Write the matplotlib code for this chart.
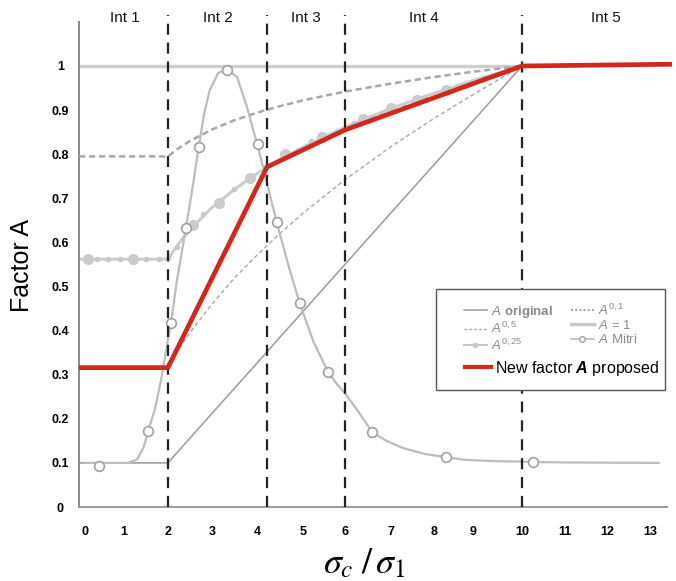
import numpy as np
import matplotlib.pyplot as plt
from matplotlib.lines import Line2D
from matplotlib.patches import Rectangle

plt.rcParams['font.family'] = ['Liberation Sans', 'DejaVu Sans']
plt.rcParams['mathtext.fontset'] = 'custom'
plt.rcParams['mathtext.rm'] = 'Liberation Sans'
plt.rcParams['mathtext.it'] = 'Liberation Sans:italic'
plt.rcParams['mathtext.bf'] = 'Liberation Sans:bold'
plt.rcParams['mathtext.bfit'] = 'Liberation Sans:italic:bold'

# x axis of the original figure is not evenly spaced: tick label -> pixel
tick_vals = np.arange(14)
tick_px = np.array([85, 124, 168, 212, 257, 303, 345, 391, 434, 473, 522, 565, 607, 650], float)


def fwd(x):
    x = np.asarray(x, float)
    y = np.interp(x, tick_vals, tick_px)
    lo = x < tick_vals[0]
    hi = x > tick_vals[-1]
    y = np.where(lo, tick_px[0] + (x - tick_vals[0]) * (tick_px[1] - tick_px[0]), y)
    y = np.where(hi, tick_px[-1] + (x - tick_vals[-1]) * (tick_px[-1] - tick_px[-2]), y)
    return y


def inv(p):
    p = np.asarray(p, float)
    x = np.interp(p, tick_px, tick_vals)
    lo = p < tick_px[0]
    hi = p > tick_px[-1]
    x = np.where(lo, tick_vals[0] + (p - tick_px[0]) / (tick_px[1] - tick_px[0]), x)
    x = np.where(hi, tick_vals[-1] + (p - tick_px[-1]) / (tick_px[-1] - tick_px[-2]), x)
    return x


# ---- data ----
x_curve = [-0.15, 2, 2.25, 2.5, 3, 3.5, 4, 4.5, 5, 6, 7, 8, 9, 10]
a_orig = [0.10, 0.10, 0.128, 0.156, 0.212, 0.269, 0.326, 0.385, 0.443, 0.55, 0.667, 0.776, 0.875, 1.0]
a_01 = [0.795, 0.795, 0.814, 0.830, 0.856, 0.877, 0.894, 0.909, 0.922, 0.942, 0.960, 0.975, 0.987, 1.0]
a_025 = [0.562, 0.562, 0.598, 0.628, 0.679, 0.720, 0.756, 0.788, 0.816, 0.861, 0.904, 0.938, 0.967, 1.0]
a_05 = [0.316, 0.316, 0.358, 0.395, 0.460, 0.519, 0.571, 0.620, 0.666, 0.742, 0.817, 0.881, 0.935, 1.0]

a025_dot_x = [0.3, 0.6, 0.9, 1.5, 1.8, 2.0, 2.2, 2.8, 3.5, 4.2, 4.9, 5.2, 5.8, 6.2, 6.6, 6.8, 7.3, 7.8, 8.6, 9.2]
a025_dot_y = [0.562, 0.562, 0.562, 0.562, 0.562, 0.565, 0.59, 0.665, 0.72, 0.77, 0.81, 0.83, 0.853, 0.87, 0.885, 0.893, 0.91, 0.93, 0.953, 0.972]
a025_big_x = [0.08, 1.2, 2.57, 3.16, 3.84, 4.61, 5.45, 6.4, 7.0, 7.6, 8.3]
a025_big_y = [0.562, 0.562, 0.64, 0.69, 0.745, 0.80, 0.84, 0.88, 0.905, 0.923, 0.945]

mitri_x = [0, 0.6, 1.1, 1.3, 1.45, 1.55, 1.7, 1.85, 1.95, 2.07, 2.2, 2.41, 2.57, 2.7, 2.82, 2.95,
           3.14, 3.33, 3.56, 3.78, 4.0, 4.17, 4.3, 4.43, 4.68, 4.93, 5.25, 5.6, 5.8, 6.0, 6.3,
           6.59, 6.9, 7.3, 7.8, 8.31, 8.8, 9.4, 10.0, 10.26, 11.0, 13.2]
mitri_y = [0.10, 0.10, 0.10, 0.108, 0.135, 0.172, 0.22, 0.29, 0.35, 0.417, 0.51, 0.633, 0.73, 0.816, 0.89, 0.945,
           0.984, 0.993, 0.975, 0.907, 0.825, 0.757, 0.70, 0.646, 0.55, 0.462, 0.375, 0.306, 0.28, 0.258, 0.215,
           0.17, 0.15, 0.133, 0.12, 0.113, 0.107, 0.104, 0.103, 0.102, 0.101, 0.10]
mitri_mark_x = [0.36, 1.55, 2.07, 2.41, 2.7, 3.33, 4.02, 4.43, 4.93, 5.6, 6.59, 8.31, 10.26]
mitri_mark_y = [0.093, 0.172, 0.417, 0.633, 0.817, 0.99, 0.823, 0.646, 0.462, 0.306, 0.17, 0.113, 0.102]

one_x = [-0.15, 10]
one_y = [1.0, 1.0]

new_x = [-0.15, 2, 4.22, 6, 10, 13.5]
new_y = [0.316, 0.316, 0.771, 0.855, 1.0, 1.004]

bounds = [2, 4.22, 6, 10]
int_names = ['Int 1', 'Int 2', 'Int 3', 'Int 4', 'Int 5']
int_x = [1.03, 3.13, 5.07, 7.77, 11.98]

y_ticks = [0, 0.1, 0.2, 0.3, 0.4, 0.5, 0.6, 0.7, 0.8, 0.9, 1]
y_labels = ['0', '0.1', '0.2', '0.3', '0.4', '0.5', '0.6', '0.7', '0.8', '0.9', '1']

# ---- figure ----
fig = plt.figure(figsize=(6.76, 5.81), dpi=100)
ax = fig.add_axes([79 / 676, 1 - 507 / 581, (671.5 - 79) / 676, (507 - 12) / 581])
ax.set_xscale('function', functions=(fwd, inv))
ax.set_xlim(-0.15, 13.5)
ax.set_ylim(0, (507 - 12) / 441)

ax.plot(one_x, one_y, color='#cdcdcd', lw=2.4, zorder=2)
ax.plot(x_curve, a_orig, color='#9a9a9a', lw=1.1, zorder=3)
ax.plot(x_curve, a_05, color='#a8a8a8', lw=1.0, ls=(0, (3, 2)), zorder=3)
ax.plot(x_curve, a_01, color='#a8a8a8', lw=1.8, ls=(0, (2.5, 1.5)), zorder=3)
ax.plot(x_curve, a_025, color='#cccccc', lw=2.2, zorder=2)
ax.plot(a025_dot_x, a025_dot_y, 'o', color='#c8c8c8', ms=3, zorder=2)
ax.plot(a025_big_x, a025_big_y, 'o', color='#cbcbcb', ms=7, zorder=2)
ax.plot(mitri_x, mitri_y, color='#bcbcbc', lw=1.6, zorder=4)
ax.plot(mitri_mark_x, mitri_mark_y, 'o', mfc='white', mec='#a0a0a0', mew=1.2, ms=7, ls='none', zorder=5)

for b in bounds:
    ax.plot([b, b], [0, (507 - 15) / 441], color='#222222', lw=1.6, ls=(0, (5, 3.5)), zorder=6)

ax.plot(new_x, new_y, color='#d2281c', lw=3.4, solid_joinstyle='miter', zorder=7)

for name, xx in zip(int_names, int_x):
    ax.text(xx, (507 - 18) / 441, name, ha='center', va='center', fontsize=11, color='#111111')

ax.spines['top'].set_visible(False)
ax.spines['right'].set_visible(False)
ax.spines['left'].set_color('#888888')
ax.spines['left'].set_linewidth(1.4)
ax.spines['left'].set_bounds(0, (507 - 22) / 441)
ax.spines['bottom'].set_color('#9a9a9a')
ax.spines['bottom'].set_linewidth(1.4)
ax.spines['bottom'].set_bounds(-0.15, 13.4)

ax.set_xticks(tick_vals)
ax.set_xticklabels([str(v) for v in tick_vals], fontsize=9, fontweight='bold')
ax.set_yticks(y_ticks)
ax.set_yticklabels(y_labels, fontsize=9, fontweight='bold')
ax.tick_params(axis='both', length=0)
ax.tick_params(axis='x', pad=14)
ax.tick_params(axis='y', pad=13.5)
for lab in ax.get_yticklabels():
    lab.set_horizontalalignment('center')

fig.text(22 / 676, 1 - 266 / 581, 'Factor A', rotation=90, ha='center', va='center', fontsize=18)
fig.text(364 / 676, 1 - 564 / 581, r'$\sigma_c\;/\,\sigma_1$', ha='center', va='center',
         fontsize=26, math_fontfamily='stix')

# ---- legend ----
small = [
    (Line2D([], [], color='#9a9a9a', lw=1.1), r'$A$ $\mathbf{original}$'),
    (Line2D([], [], color='#a8a8a8', lw=1.0, ls=(0, (2, 1.5))), r'$A^{0,5}$'),
    (Line2D([], [], color='#c8c8c8', lw=1.5, marker='o', ms=3), r'$A^{0,25}$'),
    (Line2D([], [], color='#a8a8a8', lw=1.5, ls=(0, (1, 1))), r'$A^{0,1}$'),
    (Line2D([], [], color='#c8c8c8', lw=2.4), r'$A$ = 1'),
    (Line2D([], [], color='#bcbcbc', lw=1.2, marker='o', mfc='white', mec='#a0a0a0', ms=4), r'$A$ Mitri'),
]
leg1 = ax.legend([h for h, _ in small], [t for _, t in small], ncol=2, frameon=False, fontsize=9.5,
                 loc='upper left', bbox_to_anchor=(457 / 676, 1 - 296 / 581), bbox_transform=fig.transFigure,
                 borderpad=0, handlelength=1.8, handletextpad=0.3, labelspacing=0.1, columnspacing=1.3,
                 labelcolor='#8a8a8a')
ax.add_artist(leg1)
leg2 = ax.legend([Line2D([], [], color='#d2281c', lw=3.0)], [r'New factor $\mathbfit{A}$ proposed'],
                 frameon=False, fontsize=11.5, loc='center left',
                 bbox_to_anchor=(457 / 676, 1 - 368 / 581), bbox_transform=fig.transFigure,
                 borderpad=0, handlelength=1.6, handletextpad=0.3)
ax.add_patch(Rectangle((436 / 676, 1 - 390 / 581), (665 - 436) / 676, (390 - 289) / 581,
                       transform=fig.transFigure, fill=True, facecolor='white', clip_on=False,
                       edgecolor='#555555', lw=1.0, zorder=8))
leg1.set_zorder(9)
leg2.set_zorder(9)

fig.savefig('out.png', dpi=100)
